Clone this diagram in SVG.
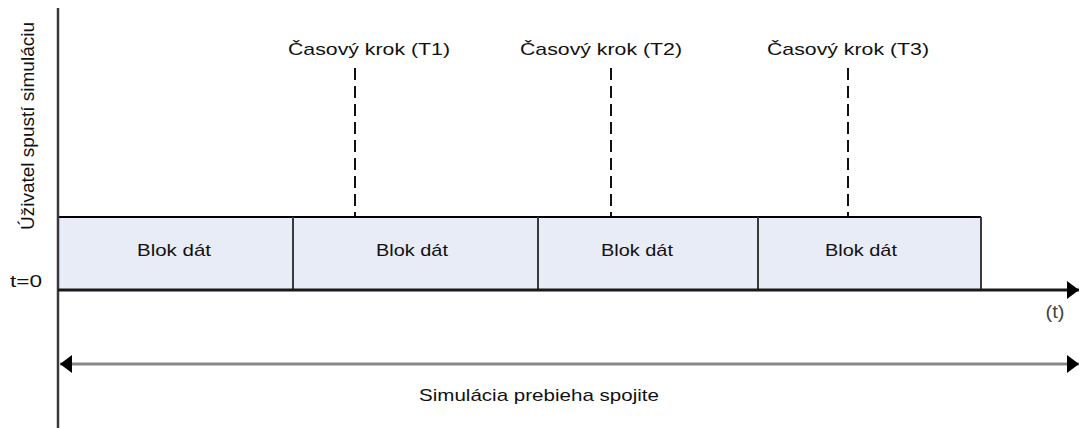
<svg xmlns="http://www.w3.org/2000/svg" width="1079" height="428" viewBox="0 0 1079 428">
<style>
text{font-family:"Liberation Sans",Arial,sans-serif;font-size:17px;fill:#111}
.blk{fill:#e8ecf6;stroke:none}
.sep{stroke:#3a3a3a;stroke-width:2}
.dash{stroke:#111;stroke-width:2;stroke-dasharray:12 6;fill:none}
</style>
<defs>
<marker id="ah" viewBox="0 0 12 18" refX="12" refY="9" markerWidth="12" markerHeight="18" markerUnits="userSpaceOnUse" orient="auto-start-reverse">
<path d="M0,0 L12,9 L0,18 Z" fill="#000"/>
</marker>
</defs>
<g id="blocks">
<g id="block1"><rect class="blk" x="58" y="217" width="235" height="73"/><text x="174" y="256" text-anchor="middle" textLength="74" lengthAdjust="spacingAndGlyphs">Blok dát</text></g>
<g id="block2"><rect class="blk" x="293" y="217" width="245" height="73"/><text x="412" y="256" text-anchor="middle" textLength="72" lengthAdjust="spacingAndGlyphs">Blok dát</text></g>
<g id="block3"><rect class="blk" x="538" y="217" width="220" height="73"/><text x="637" y="256" text-anchor="middle" textLength="72" lengthAdjust="spacingAndGlyphs">Blok dát</text></g>
<g id="block4"><rect class="blk" x="758" y="217" width="223" height="73"/><text x="861" y="256" text-anchor="middle" textLength="72" lengthAdjust="spacingAndGlyphs">Blok dát</text></g>
<line x1="58" y1="217" x2="981" y2="217" stroke="#000" stroke-width="2"/>
<line class="sep" x1="293" y1="217" x2="293" y2="290"/>
<line class="sep" x1="538" y1="217" x2="538" y2="290"/>
<line class="sep" x1="758" y1="217" x2="758" y2="290"/>
<line class="sep" x1="981" y1="217" x2="981" y2="290"/>
</g>
<g id="steps">
<g id="step1"><text x="369" y="55" text-anchor="middle" textLength="162" lengthAdjust="spacingAndGlyphs">Časový krok (T1)</text></g>
<g id="step2"><text x="601" y="55" text-anchor="middle" textLength="162" lengthAdjust="spacingAndGlyphs">Časový krok (T2)</text></g>
<g id="step3"><text x="848" y="55" text-anchor="middle" textLength="162" lengthAdjust="spacingAndGlyphs">Časový krok (T3)</text></g>
</g>
<g id="labels">
<text x="34" y="126" text-anchor="middle" transform="rotate(-90 34 126)" textLength="208" lengthAdjust="spacingAndGlyphs" style="font-size:18px">Úživatel spustí simuláciu</text>
<text x="26" y="287" text-anchor="middle" textLength="32" lengthAdjust="spacingAndGlyphs">t=0</text>
<text x="1055" y="318" text-anchor="middle" textLength="19" lengthAdjust="spacingAndGlyphs" style="font-size:18px;fill:#444">(t)</text>
<text x="539" y="401" text-anchor="middle" textLength="240" lengthAdjust="spacingAndGlyphs">Simulácia prebieha spojite</text>
</g>
<g id="connectors">
<line x1="58" y1="8" x2="58" y2="428" stroke="#3a3a3a" stroke-width="2.5"/>
<line x1="58" y1="290" x2="1079" y2="290" stroke="#1a1a1a" stroke-width="3" marker-end="url(#ah)"/>
<line x1="60" y1="364" x2="1079" y2="364" stroke="#888" stroke-width="3" marker-start="url(#ah)" marker-end="url(#ah)"/>
<line class="dash" x1="355" y1="68" x2="355" y2="216"/>
<line class="dash" x1="611" y1="68" x2="611" y2="216"/>
<line class="dash" x1="848" y1="68" x2="848" y2="216"/>
</g>
</svg>
